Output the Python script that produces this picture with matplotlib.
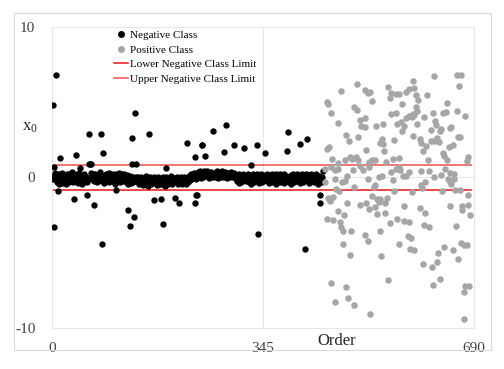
import numpy as np
import matplotlib
matplotlib.use("Agg")
import matplotlib.pyplot as plt
from matplotlib.lines import Line2D
from matplotlib.patches import Rectangle

plt.rcParams['font.family'] = ['Liberation Serif', 'DejaVu Serif']

# ---------------- data ----------------
# Negative class: typical (band) value per order index 0..443
neg_band = [
    0.05, -0.10, 0.20, 0.10, -0.25, 0.30, -0.05, 0.15, -0.30, 0.00,
    -0.15, 0.25, -0.40, 0.10, -0.20, 0.05, 0.30, -0.35, 0.00, -0.10,
    0.15, -0.25, 0.05, -0.45, 0.20, -0.05, 0.10, -0.30, 0.25, -0.15,
    0.00, -0.20, 0.35, -0.10, 0.05, -0.30, 0.15, -0.05, -0.25, 0.10,
    -0.15, 0.20, -0.35, 0.00, 0.30, -0.20, 0.05, -0.10, 0.15, -0.40,
    0.10, -0.05, -0.25, 0.25, 0.00, -0.15, 0.05, -0.30, 0.20, -0.10,
    0.15, -0.20, 0.00, 0.30, -0.35, 0.05, -0.10, 0.20, -0.25, 0.10,
    -0.05, 0.25, -0.15, -0.30, 0.05, 0.15, -0.20, 0.00, 0.35, -0.10,
    0.10, -0.25, 0.20, -0.05, 0.05, -0.35, 0.15, -0.15, 0.25, 0.00,
    -0.20, 0.10, -0.10, 0.30, -0.30, 0.05, 0.20, -0.05, -0.25, 0.15,
    0.00, -0.15, 0.25, -0.40, 0.10, -0.05, 0.20, -0.20, 0.05, 0.30,
    -0.10, 0.15, -0.30, 0.00, 0.20, -0.20, 0.10, -0.05, 0.25, -0.15,
    0.05, -0.30, 0.15, -0.10, -0.40, -0.20, 0.00, -0.50, 0.10, -0.35,
    -0.20, -0.45, 0.05, -0.30, -0.55, -0.10, -0.25, 0.00, -0.40, -0.15,
    -0.30, 0.05, -0.20, -0.45, -0.10, -0.35, 0.00, -0.25, -0.50, -0.15,
    -0.05, -0.35, -0.20, 0.10, -0.40, -0.25, -0.10, -0.55, -0.15, -0.30,
    0.00, -0.25, -0.45, -0.10, -0.35, -0.20, 0.05, -0.40, -0.15, -0.30,
    -0.05, -0.50, -0.20, -0.35, 0.00, -0.25, -0.45, -0.10, -0.30, -0.15,
    -0.40, 0.05, -0.20, -0.35, -0.10, -0.55, -0.25, 0.00, -0.30, -0.15,
    -0.45, -0.20, -0.05, -0.35, -0.25, 0.10, -0.40, -0.15, -0.30, -0.05,
    -0.20, -0.50, -0.10, -0.30, 0.00, -0.25, -0.40, -0.15, -0.05, -0.35,
    -0.20, 0.05, -0.30, -0.45, -0.10, -0.25, 0.00, -0.35, -0.15, -0.40,
    -0.05, -0.20, 0.00, -0.30, 0.10, -0.15, 0.05, -0.10, 0.20, 0.00,
    0.15, -0.05, 0.30, 0.10, 0.25, -0.10, 0.20, 0.05, 0.35, 0.00,
    0.25, 0.10, 0.40, 0.15, -0.05, 0.30, 0.20, 0.05, 0.45, 0.15,
    0.00, 0.35, 0.20, 0.10, 0.40, 0.25, -0.05, 0.30, 0.15, 0.05,
    0.35, 0.20, 0.10, 0.45, 0.00, 0.25, 0.15, 0.30, 0.05, 0.40,
    0.20, -0.05, 0.30, 0.10, 0.35, 0.15, 0.25, 0.00, 0.40, 0.20,
    0.10, 0.30, 0.05, 0.35, 0.15, 0.25, -0.05, 0.30, 0.10, 0.20,
    0.00, 0.25, 0.15, 0.35, 0.05, 0.20, 0.10, 0.30, -0.05, 0.15,
    0.05, -0.10, 0.15, -0.25, 0.05, -0.35, 0.20, -0.15, 0.00, -0.30,
    0.10, -0.20, -0.05, 0.25, -0.40, 0.05, -0.15, 0.15, -0.25, 0.00,
    -0.10, 0.20, -0.30, 0.05, -0.20, 0.10, -0.45, 0.00, -0.15, 0.25,
    -0.05, -0.30, 0.15, -0.10, 0.05, -0.25, 0.20, -0.15, 0.00, -0.35,
    0.10, -0.20, 0.25, -0.05, -0.30, 0.15, -0.10, 0.05, -0.40, 0.00,
    -0.15, 0.20, -0.25, 0.10, -0.05, -0.35, 0.15, 0.00, -0.20, 0.25,
    -0.10, 0.05, -0.30, 0.15, -0.15, 0.00, -0.45, 0.20, -0.05, -0.25,
    0.10, -0.15, 0.25, -0.30, 0.05, -0.10, 0.15, -0.20, 0.00, -0.35,
    0.20, -0.05, 0.10, -0.25, 0.05, -0.15, 0.25, -0.30, 0.00, -0.10,
    0.15, -0.40, 0.05, -0.20, 0.20, -0.05, -0.30, 0.10, -0.15, 0.00,
    0.25, -0.25, 0.05, -0.10, 0.15, -0.35, 0.00, -0.20, 0.20, -0.05,
    -0.30, 0.10, -0.15, 0.05, -0.45, 0.20, -0.10, 0.00, -0.25, 0.15,
    -0.05, -0.35, 0.10, -0.20, 0.25, 0.00, -0.15, 0.05, -0.30, 0.15,
    -0.10, 0.20, -0.25, 0.05, -0.05, -0.40, 0.10, -0.20, 0.00, 0.15,
    -0.15, 0.05, -0.30, 0.20,
]

# Negative class: outlying observations (order index, value)
neg_out_order = [2, 3, 4, 6, 9, 13, 36, 40, 46, 58, 60, 61, 62, 64, 69, 80, 82, 84,
                 104, 125, 127, 130, 131, 134, 136, 138, 158, 167, 179, 182, 186,
                 201, 207, 221, 233, 234, 236, 237, 245, 246, 250, 263, 281, 285,
                 298, 314, 325, 335, 337, 348, 385, 386, 406, 414, 417, 438, 439, 443]
neg_out_value = [4.83, 0.69, -3.30, 6.78, -0.93, 1.31, -1.44, 1.48, 0.66, -1.13, 2.92,
                 0.91, 0.90, 0.90, -1.82, 2.92, -4.45, 1.60, -0.80, -2.13, -3.23, 2.61,
                 0.90, -2.63, 4.30, 0.90, 2.92, -1.50, -1.44, -3.10, 0.66, -1.36, -1.68,
                 2.30, 1.33, -1.70, -1.15, -1.15, 2.19, 2.19, 1.44, 3.10, 1.70, 3.52,
                 2.17, 1.99, 0.86, 2.13, -3.74, 1.62, 1.77, 3.01, 2.21, -4.78, 2.57,
                 -1.15, -1.68, 0.40]

# Positive class (order index, value)
pos_order = [625, 663, 668, 665, 590, 499, 473, 512, 520, 517, 549, 555, 562, 568, 579,
             584, 592, 613, 595, 598, 553, 523, 450, 452, 572, 646, 494, 498, 456, 562,
             555, 595, 597, 590, 592, 623, 640, 644, 663, 675, 583, 579, 589, 571, 564,
             609, 511, 504, 506, 511, 468, 530, 541, 576, 573, 597, 627, 628, 636, 634,
             619, 653, 651, 481, 500, 485, 540, 537, 542, 559, 590, 602, 604, 611, 607,
             619, 625, 629, 632, 664, 667, 649, 656, 450, 453, 514, 543, 639, 641, 646,
             680, 679, 614, 479, 487, 490, 497, 501, 458, 467, 457, 524, 528, 519, 546,
             557, 567, 568, 504,
             446, 463, 467, 492, 508, 519, 554, 562, 569, 584, 604, 616, 643, 651, 657,
             483, 463, 474, 479, 516, 535, 539, 557, 574, 578, 603, 605, 610, 625, 636,
             648, 653, 650, 658, 446, 464, 470, 494, 528, 526, 560, 588, 638, 659, 667,
             452, 455, 459, 524, 531, 547, 544, 483, 504, 513, 518, 528, 534, 537, 576,
             602, 650, 680, 671, 681, 671, 683, 467, 477, 532, 544, 610, 450, 460, 471,
             472, 475, 489, 552, 564, 576, 583, 609, 617, 660, 537, 512, 517, 582, 587,
             586, 592, 476, 567, 641, 631, 629, 655, 664, 669, 674, 678, 488, 538, 606,
             621, 456, 481, 550, 623, 634, 676, 682, 674, 462, 484, 493, 520, 674]
pos_value = [6.77, 6.80, 6.84, 6.10, 6.40, 6.22, 5.73, 5.84, 5.69, 5.62, 6.00, 5.62, 5.53,
             5.53, 5.69, 5.87, 5.95, 5.49, 5.47, 5.16, 5.27, 5.07, 5.02, 4.89, 4.89, 4.93,
             4.67, 4.51, 4.31, 4.29, 4.20, 4.67, 4.40, 4.23, 4.16, 4.29, 4.29, 4.33, 4.45,
             4.09, 4.07, 3.96, 4.00, 3.67, 3.54, 4.00, 3.96, 3.80, 3.45, 3.34, 3.63, 3.45,
             3.54, 3.43, 3.12, 3.54, 3.78, 3.47, 3.25, 3.07, 3.16, 3.38, 3.30, 2.83, 2.70,
             2.41, 2.54, 2.28, 2.23, 2.50, 2.79, 2.59, 2.30, 2.12, 1.79, 2.45, 2.45, 2.63,
             2.37, 2.70, 2.68, 2.01, 2.19, 1.88, 2.03, 1.81, 1.75, 1.66, 1.44, 1.19, 1.37,
             1.08, 1.19, 1.17, 1.39, 1.26, 1.37, 1.13, 1.21, 0.95, 0.73, 1.19, 1.19, 1.06,
             1.00, 1.21, 1.30, 0.73, 0.79,
             0.58, 0.47, 0.58, 0.47, 0.53, 0.69, 0.35, 0.58, 0.53, 0.35, 0.46, 0.46, 0.58,
             0.31, 0.24, 0.13, -0.09, -0.27, -0.24, -0.13, 0.02, 0.13, -0.18, 0.09, 0.07,
             -0.53, -0.73, -0.29, 0.04, 0.18, -0.09, -0.42, -0.27, -0.09, -0.31, -0.75,
             -0.91, -0.66, -0.49, -0.64, -0.91, -0.98, -0.89, -0.80, -0.80, -1.37, -1.53,
             -1.29, -1.20, -1.42, -1.35, -1.68, -1.68, -1.86, -1.68, -2.08, -1.97, -1.64,
             -1.44, -1.88, -2.02, -1.91, -1.15, -1.88, -1.84, -2.19, -2.46, -2.24, -2.48,
             -2.44, -2.35, -2.33, -2.75, -2.81, -2.99, -3.26, -3.57, -3.57, -3.01, -2.79,
             -2.88, -2.97, -3.13, -3.32, -3.21, -3.55, -3.79, -4.23, -3.92, -4.05, -4.74,
             -4.81, -4.41, -4.45, -4.61, -5.03, -5.63, -4.83, -5.41, -4.36, -4.47, -4.47,
             -5.14, -5.21, -5.78, -5.96, -7.02, -7.29, -6.80, -7.11, -6.73, -7.22, -7.22,
             -7.58, -8.28, -8.02, -8.46, -9.08, -9.39]

limit_order = [0, 685]
lower_limit = -0.8
upper_limit = 0.8

x_ticks = [0, 345, 690]
y_ticks = [-10, 0, 10]

# ---------------- build negative series ----------------
neg_value = np.array(neg_band, dtype=float)
neg_value[np.array(neg_out_order)] = neg_out_value
neg_order = np.arange(len(neg_value))

# ---------------- figure ----------------
fig = plt.figure(figsize=(5.04, 3.69), dpi=100)
fig.patches.append(Rectangle((14 / 504, 1 - 350 / 369), 477 / 504, 337 / 369,
                             transform=fig.transFigure, fill=False,
                             edgecolor='#D9D9D9', linewidth=0.8, zorder=0))
ax = fig.add_axes([52 / 504, 1 - 328 / 369, 422 / 504, 301 / 369])

grid_c = '#E6E6E6'
for s in ax.spines.values():
    s.set_color(grid_c)
    s.set_linewidth(0.8)
ax.axvline(345, color=grid_c, lw=0.8, zorder=0)
ax.axhline(0, color=grid_c, lw=0.8, zorder=0)

ax.scatter(neg_order, neg_value, s=21, color='black', linewidths=0, zorder=3)
ax.scatter(pos_order, pos_value, s=22, color='#A6A6A6', linewidths=0, zorder=3)
ax.plot(limit_order, [lower_limit, lower_limit], color='#EE2828', lw=1.2, zorder=2)
ax.plot(limit_order, [upper_limit, upper_limit], color='#F25C5C', lw=1.2, zorder=2)

ax.set_xlim(0, 690)
ax.set_ylim(-10, 10)
ax.set_xticks(x_ticks)
ax.set_yticks(y_ticks)
ax.set_xticklabels([str(v) for v in x_ticks])
ax.set_yticklabels([str(v) for v in y_ticks])
ax.tick_params(axis='both', length=0, labelsize=11, colors='#404040')
ax.tick_params(axis='x', pad=10)
ax.tick_params(axis='y', pad=12)

fig.text(22 / 504, 1 - 127 / 369, r'x$\mathregular{_0}$', fontsize=12,
         color='#262626', ha='left', va='center')
fig.text(337 / 504, 1 - 341 / 369, 'Order', fontsize=12, color='#262626',
         ha='center', va='center')

handles = [
    Line2D([], [], marker='o', ls='none', color='black', markersize=4),
    Line2D([], [], marker='o', ls='none', color='#A6A6A6', markersize=4),
    Line2D([], [], color='#EE2828', lw=1.2),
    Line2D([], [], color='#F25C5C', lw=1.2),
]
labels = ['Negative Class', 'Positive Class', 'Lower Negative Class Limit',
          'Upper Negative Class Limit']
ax.legend(handles, labels, loc='upper left', bbox_to_anchor=(0.147, 0.99),
          frameon=False, fontsize=8, borderpad=0, borderaxespad=0,
          handlelength=1.3, handletextpad=0.15, labelspacing=0.45)

fig.savefig('out.png', dpi=100)
